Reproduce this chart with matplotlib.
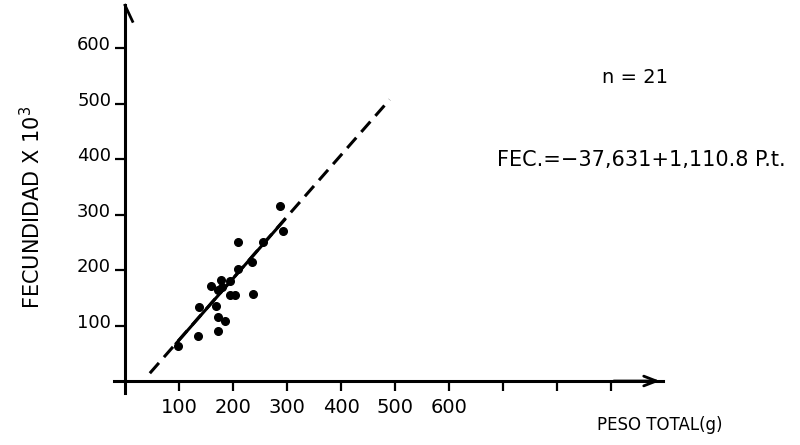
import matplotlib
matplotlib.use("Agg")
import matplotlib.pyplot as plt
from matplotlib.transforms import ScaledTranslation

# Data: total weight (g) vs fecundity (x 10^3)
peso = [287, 293, 209, 256, 235, 209, 194, 178, 159, 172, 180,
        194, 204, 237, 137, 169, 172, 185, 135, 172, 98]
fecundidad = [315, 270, 250, 250, 214, 202, 180, 182, 171, 164, 169,
              155, 155, 157, 133, 135, 115, 108, 81, 90, 63]

# fitted line: FEC = -37,631 + 1,110.8 P.t.
fit_dash_x = [46, 490]
fit_dash_y = [14, 507]
fit_solid_x = [95, 295]
fit_solid_y = [68, 290]

x_ticks = [100, 200, 300, 400, 500, 600, 700, 800, 900]
x_labels = ["100", "200", "300", "400", "500", "600", "", "", ""]
y_ticks = [100, 200, 300, 400, 500, 600]

fig = plt.figure(figsize=(8, 4.45), dpi=100)
ax = fig.add_axes([0, 0, 1, 1])
ax.set_xlim(-231.5, 1250)
ax.set_ylim(-115.3, 686.5)

# axes drawn through the origin, hand-drawn look
for side in ["top", "right"]:
    ax.spines[side].set_visible(False)
ax.spines["left"].set_position(("data", 0))
ax.spines["bottom"].set_position(("data", 0))
ax.spines["left"].set_bounds(-22, 677)
ax.spines["bottom"].set_bounds(-20, 996)
for side in ["left", "bottom"]:
    ax.spines[side].set_linewidth(2.2)

ax.set_xticks(x_ticks)
ax.set_xticklabels(x_labels)
ax.set_yticks(y_ticks)
ax.tick_params(axis="x", direction="out", length=7, width=1.6, pad=5, labelsize=14)
ax.tick_params(axis="y", direction="out", length=7, width=1.6, pad=3, labelsize=13)
for lab in ax.get_yticklabels():
    lab.set_transform(lab.get_transform() + ScaledTranslation(0, 0.05, fig.dpi_scale_trans))

# arrow heads
ax.plot([0, 14], [677, 648], color="black", lw=2)
ax.annotate("", xy=(996, 0), xytext=(900, 0),
            arrowprops=dict(arrowstyle="->,head_length=0.9,head_width=0.35",
                            color="black", lw=2))

# regression line and points
ax.plot(fit_dash_x, fit_dash_y, color="black", lw=2.2, dashes=(4.5, 2.5))
ax.plot(fit_solid_x, fit_solid_y, color="black", lw=2.2)
ax.plot(peso, fecundidad, "o", color="black", ms=5.5)

fig.text(0.7525, 0.825, "n = 21", fontsize=14, va="center")
fig.text(0.621, 0.64, "FEC.=−37,631+1,110.8 P.t.", fontsize=15, va="center")
fig.text(0.825, 0.045, "PESO TOTAL(g)", fontsize=12, ha="center", va="center")
fig.text(0.04, 0.535, "FECUNDIDAD X 10$^{3}$", fontsize=15, rotation=90,
         ha="center", va="center")

fig.savefig("out.png", dpi=100)
